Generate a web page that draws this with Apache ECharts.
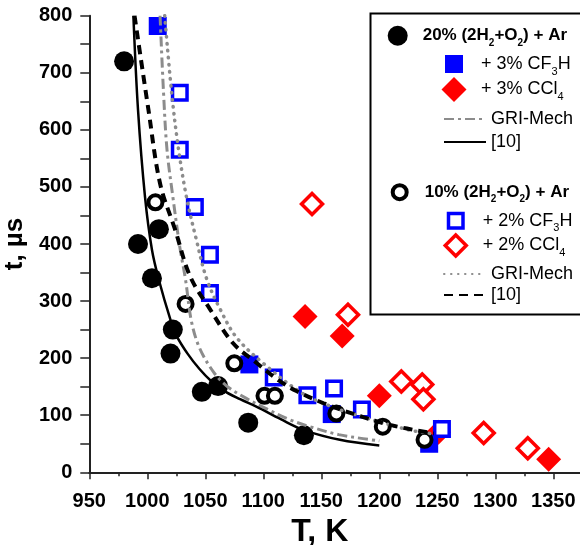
<!DOCTYPE html>
<html>
<head>
<meta charset="utf-8">
<script src="https://cdn.jsdelivr.net/npm/echarts@6/dist/echarts.min.js"></script>
<style>
  html, body { margin: 0; padding: 0; background: #fff; }
  #chart { width: 580px; height: 545px; }
</style>
</head>
<body>
<div id="chart"></div>
<script>
// Ignition delay t (µs) versus temperature T (K)
// 20% (2H2+O2) + Ar mixtures
const mix20 = [[980,720],[992,400],[1004,340],[1010,426],[1020,208],[1022,250],[1047,141],[1061,151],[1087,87],[1135,65]];
const mix20CF3H = [[1009,782],[1088,189],[1159,102],[1243,50]];
const mix20CCl4 = [[1136,273],[1168,239],[1200,134],[1251,70],[1346,23]];
const gri20 = [[1011,800],[1014,665],[1017,565],[1022,483],[1028,395],[1033,337],[1038,265],[1045,218],[1057,176],[1068,152],[1085,130],[1103,111],[1123,92],[1140,80],[1165,66],[1186,59],[1200,55]];
const ref20 = [[988,800],[992,635],[998,483],[1004,390],[1010,337],[1020,267],[1025,240],[1035,207],[1045,181],[1055,160],[1065,144],[1080,128],[1094,115],[1115,93],[1135,74],[1166,57],[1200,47]];

// 10% (2H2+O2) + Ar mixtures
const mix10 = [[1007,473],[1033,295],[1075,191],[1101,134],[1110,134],[1163,103],[1203,80],[1239,57]];
const mix10CF3H = [[1028,665],[1028,565],[1041,465],[1054,381],[1054,314],[1109,166],[1138,135],[1161,147],[1185,110],[1254,76]];
const mix10CCl4 = [[1142,470],[1173,276],[1219,159],[1237,154],[1238,128],[1290,69],[1328,42]];
const gri10 = [[1015,800],[1021,665],[1027,565],[1034,480],[1042,410],[1051,340],[1063,285],[1077,236],[1100,191],[1134,138],[1163,112],[1186,97],[1224,75],[1244,68]];
const ref10 = [[989,800],[1001,635],[1011,506],[1024,425],[1037,343],[1054,286],[1074,226],[1094,192],[1114,160],[1129,142],[1152,121],[1181,100],[1209,83],[1247,68]];

// Axis ranges and ticks
const xMin = 950, xMax = 1375, xStep = 50;
const yMin = 0, yMax = 800, yStep = 100;

const FONT = 'Liberation Sans, Arial, sans-serif';
const BLUE = '#0000ff', RED = '#ff0000', GRAY = '#8c8c8c';

// Legend labels with chemical subscripts
const labels = {
  h20: '{h|20% (2H}{hs|2}{h|+O}{hs|2}{h|) + Ar}',
  cf20: '{t|+ 3% CF}{s|3}{t|H}',
  cc20: '{t|+ 3% CCl}{s|4}',
  g20: '{t|GRI-Mech}',
  r20: '{t|[10]}',
  h10: '{h|10% (2H}{hs|2}{h|+O}{hs|2}{h|) + Ar}',
  cf10: '{t|+ 2% CF}{s|3}{t|H}',
  cc10: '{t|+ 2% CCl}{s|4}',
  g10: '{t|GRI-Mech}',
  r10: '{t|[10]}'
};

const rich = {
  h: { fontFamily: FONT, fontWeight: 'bold', fontSize: 17, lineHeight: 24, color: '#000' },
  hs: { fontFamily: FONT, fontWeight: 'bold', fontSize: 10, lineHeight: 10, padding: [15, 0, 0, 0], color: '#000' },
  t: { fontFamily: FONT, fontSize: 18, lineHeight: 24, color: '#000' },
  s: { fontFamily: FONT, fontSize: 11, lineHeight: 10, padding: [15, 0, 0, 0], color: '#000' }
};

// One legend block per entry: icon centred at (cx, cy), label starting at textX
function legendAt(name, cx, cy, size, textX, iconStyle) {
  const gap = textX - (cx + size / 2) - 5;
  return {
    data: [name], left: cx - size / 2, top: cy - size / 2, padding: 0,
    itemWidth: size, itemHeight: size, selectedMode: false,
    itemStyle: Object.assign({ opacity: 1 }, iconStyle),
    formatter: n => '{sp| }' + labels[n],
    textStyle: { rich: Object.assign({ sp: { width: Math.max(gap, 0), fontSize: 2 } }, rich) }
  };
}

// Legend block for a curve: line segment from x0 to x1 at height cy
function lineLegendAt(name, x0, x1, cy) {
  return {
    data: [name], left: x0, top: cy - 7, padding: 0,
    itemWidth: x1 - x0, itemHeight: 14, selectedMode: false,
    itemStyle: { opacity: 0, color: 'transparent', borderWidth: 0 },
    formatter: n => labels[n],
    textStyle: { rich: rich }
  };
}

const scatter = (name, data, symbol, size, style, z) => ({
  name, type: 'scatter', data, symbol, symbolSize: size,
  itemStyle: Object.assign({ opacity: 1 }, style), z
});

const line = (name, data, lineStyle) => ({
  name, type: 'line', data, symbol: 'none', smooth: 0.35, lineStyle,
  itemStyle: { color: lineStyle.color }, z: 5
});

const chart = echarts.init(document.getElementById('chart'), null, { renderer: 'canvas' });

chart.setOption({
  animation: false,
  backgroundColor: '#fff',
  grid: { left: 89.3, top: 15.7, right: -2.3, bottom: 72.7, containLabel: false, outerBoundsMode: 'none' },
  xAxis: {
    type: 'value', min: xMin, max: xMax, interval: xStep,
    name: 'T, K', nameLocation: 'middle', nameGap: 39,
    nameTextStyle: { fontFamily: FONT, fontWeight: 'bold', fontSize: 32, color: '#000', padding: [0, 32, 0, 0] },
    axisLine: { show: true, onZero: false, lineStyle: { color: '#222', width: 2 } },
    axisTick: { show: true, inside: false, length: 7, lineStyle: { color: '#222', width: 1.5 } },
    minorTick: { show: true, splitNumber: 2, length: 4, lineStyle: { color: '#222', width: 1.5 } },
    axisLabel: { fontFamily: FONT, fontWeight: 'bold', fontSize: 20, color: '#000', margin: 19, showMaxLabel: false, formatter: v => String(v) },
    splitLine: { show: false }
  },
  yAxis: {
    type: 'value', min: yMin, max: yMax, interval: yStep,
    name: 't, µs', nameLocation: 'middle', nameGap: 56, nameRotate: 90,
    nameTextStyle: { fontFamily: FONT, fontWeight: 'bold', fontSize: 26, color: '#000' },
    axisLine: { show: true, onZero: false, lineStyle: { color: '#222', width: 2 } },
    axisTick: { show: true, inside: false, length: 9, lineStyle: { color: '#222', width: 1.5 } },
    minorTick: { show: true, splitNumber: 2, length: 9, lineStyle: { color: '#222', width: 1.5 } },
    axisLabel: { fontFamily: FONT, fontWeight: 'bold', fontSize: 20, color: '#000', margin: 17, formatter: v => String(v) },
    splitLine: { show: false }
  },
  legend: [
    legendAt('h20', 397.7, 33.3, 20, 422.7, { color: '#000' }),
    legendAt('cf20', 454, 60, 18, 481, { color: BLUE }),
    legendAt('cc20', 454, 89, 25, 481, { color: RED }),
    lineLegendAt('g20', 443, 485, 117),
    lineLegendAt('r20', 443, 485, 140),
    legendAt('h10', 397.7, 186.7, 14, 422.7, { color: '#fff', borderColor: '#000', borderWidth: 4 }),
    legendAt('cf10', 454, 215, 14.5, 481, { color: '#fff', borderColor: BLUE, borderWidth: 3.5 }),
    legendAt('cc10', 454, 243, 21, 481, { color: '#fff', borderColor: RED, borderWidth: 3.5 }),
    lineLegendAt('g10', 443, 485, 272),
    lineLegendAt('r10', 443, 485, 293)
  ],
  graphic: [{
    type: 'rect', left: 368, top: 11, z: 100,
    shape: { x: 0, y: 0, width: 230, height: 301 },
    style: { fill: 'none', stroke: '#000', lineWidth: 2 }
  }],
  series: [
    scatter('cc20', mix20CCl4, 'diamond', 25, { color: RED }, 2),
    scatter('cf20', mix20CF3H, 'rect', 18, { color: BLUE }, 2),
    scatter('h20', mix20, 'circle', 20, { color: '#000' }, 2),
    scatter('cc10', mix10CCl4, 'diamond', 21, { color: '#fff', borderColor: RED, borderWidth: 3.5 }, 3),
    scatter('cf10', mix10CF3H, 'rect', 14.5, { color: '#fff', borderColor: BLUE, borderWidth: 3.5 }, 3),
    scatter('h10', mix10, 'circle', 14, { color: '#fff', borderColor: '#000', borderWidth: 4 }, 3),
    line('g20', gri20, { color: GRAY, width: 3, type: [10, 4, 3, 4] }),
    line('r20', ref20, { color: '#000', width: 2.5, type: 'solid' }),
    line('g10', gri10, { color: GRAY, width: 3.5, type: [0.5, 6.5], cap: 'round' }),
    line('r10', ref10, { color: '#000', width: 4, type: [9, 6] })
  ]
});
</script>
</body>
</html>
